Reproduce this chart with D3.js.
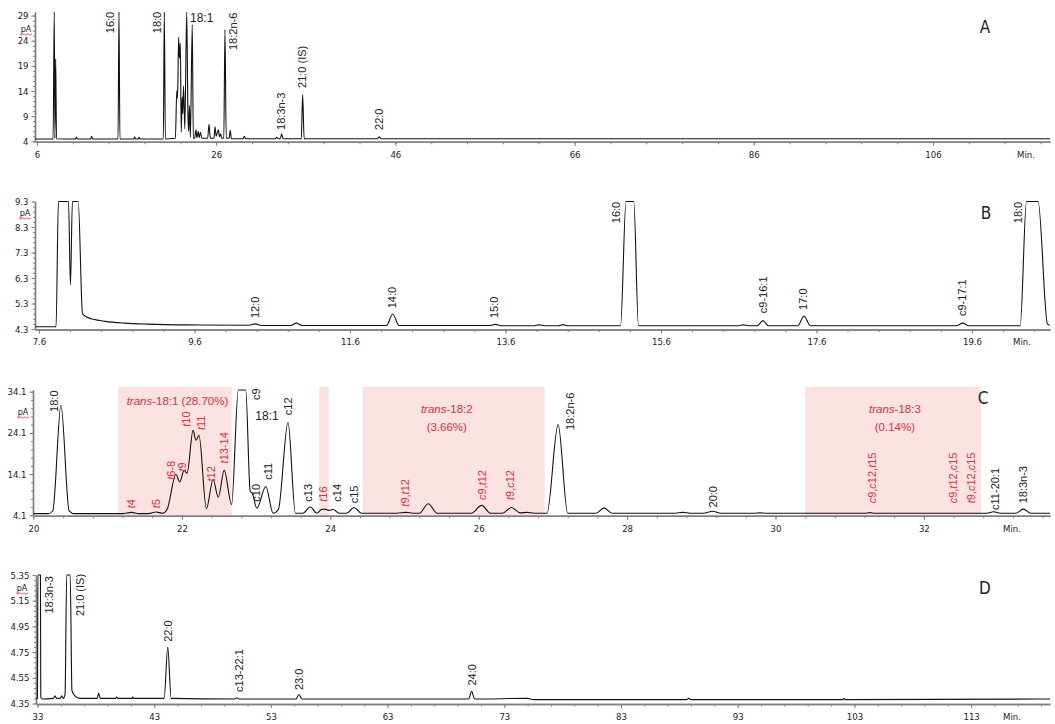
<!DOCTYPE html>
<html>
<head>
<meta charset="utf-8">
<script src="https://cdn.jsdelivr.net/npm/d3@7"></script>
<style>
body { margin: 0; background: #fff; }
svg { display: block; }
.tick text { font-family: "Liberation Sans Narrow", "DejaVu Sans Condensed", sans-serif; font-size: 9.5px; fill: #222; }
.plab { font-family: "Liberation Sans", Arial, sans-serif; font-size: 11px; fill: #222; }
.red { fill: #e0313c; }
</style>
</head>
<body>
<svg id="chart" width="1055" height="724"></svg>
<script>

// ---- panel A : full run (min, pA)
var traceA = [[5.78,4.45],[7.8,4.45],[7.93,45],[8.0,4.6],[8.09,20.4],[8.18,4.5],[10.3,4.45],[10.4,4.8],[10.5,4.45],
    [12.0,4.45],[12.1,5.0],[12.2,4.45],[15.05,4.45],[15.15,45],[15.26,4.45],[16.8,4.45],[16.9,4.9],[17.0,4.45],
    [17.3,4.45],[17.4,4.8],[17.5,4.45],[20.1,4.45],[20.21,45],[20.33,4.45],[21.45,4.6],[21.6,14.0],[21.66,12.5],
    [21.72,15.0],[21.81,24.7],[21.9,20.5],[22.0,23.5],[22.1,5.8],[22.2,12.8],[22.27,9.5],[22.36,15.0],[22.5,6.5],
    [22.71,45],[22.85,9.4],[22.92,6],[23.02,11.1],[23.12,4.8],[23.33,27.2],[23.45,4.6],[23.6,4.6],[23.75,6.3],
    [23.85,4.7],[24.0,6.0],[24.1,4.7],[24.25,5.8],[24.4,4.6],[25.05,4.6],[25.2,7.4],[25.35,4.6],[25.75,4.6],
    [25.87,6.9],[26.0,5.0],[26.24,6.3],[26.36,4.9],[26.5,5.5],[26.62,4.6],[26.85,4.6],[26.98,26.2],[27.12,4.6],
    [27.45,4.6],[27.57,6.2],[27.7,4.5],[29.0,4.5],[29.14,5.0],[29.3,4.5],[32.6,4.5],[32.75,4.8],[32.9,4.5],
    [33.15,4.5],[33.31,5.5],[33.45,4.5],[35.5,4.5],[35.65,13.3],[35.82,4.5],[44.0,4.5],[44.2,4.9],[44.4,4.5],[119.06,4.5]];
var xTicksA = [6, 26, 46, 66, 86, 106];
var yTicksA = [4, 9, 14, 19, 24, 29];
var labelsA = [["16:0",14.15,25.5],["18:0",19.36,25.5],["18:2n-6",27.9,22.15],["18:3n-3",33.23,6.25],
    ["21:0 (IS)",35.65,14.6],["22:0",44.2,6.25]];

// ---- panel B : 7.6 - 20.6 min
var traceB = [[7.55,4.39],[7.82,4.39],[7.85,12],[7.98,12],[8.005,6.03],[8.03,12],[8.105,12],[8.16,4.9],[8.22,4.76],
    [8.3,4.68],[8.45,4.6],[8.7,4.53],[9.0,4.49],[9.5,4.46],[10.3,4.45],[10.38,4.5],[10.46,4.44],[10.84,4.44],
    [10.91,4.53],[10.98,4.44],[12.07,4.44],[12.15,4.89],[12.23,4.44],[13.4,4.44],[13.47,4.48],[13.54,4.43],
    [13.97,4.43],[14.03,4.46],[14.1,4.43],[14.28,4.43],[14.34,4.47],[14.4,4.43],[15.08,4.43],[15.15,12],[15.25,12],
    [15.31,4.43],[16.6,4.43],[16.66,4.46],[16.72,4.43],[16.84,4.43],[16.91,4.63],[16.98,4.43],[17.36,4.43],
    [17.44,4.81],[17.52,4.43],[19.4,4.43],[19.48,4.53],[19.56,4.43],[20.22,4.43],[20.3,12],[20.45,12],[20.57,4.5],[20.6,4.45]];
var xTicksB = [7.6, 9.6, 11.6, 13.6, 15.6, 17.6, 19.6];
var yTicksB = [4.3, 5.3, 6.3, 7.3, 8.3, 9.3];
var labelsB = [["12:0",10.38,4.73],["14:0",12.14,5.11],["15:0",13.46,4.73],["16:0",15.02,8.45],
    ["c9-16:1",16.91,4.92],["17:0",17.43,5.05],["c9-17:1",19.47,4.81],["18:0",20.19,8.45]];

// ---- panel C : 20 - 33.7 min
var traceC = [[20.0,4.5],[20.2,4.5],[20.26,5.2],[20.37,30.8],[20.48,5.2],[20.55,4.5],[21.2,4.5],[21.32,4.8],[21.42,4.5],
    [21.55,4.5],[21.65,4.9],[21.74,4.6],[21.8,5.5],[21.92,14.0],[21.97,12.2],[22.03,15.0],[22.07,14.3],[22.15,24.7],
    [22.19,22.3],[22.23,23.5],[22.33,5.7],[22.42,12.8],[22.49,8.5],[22.57,15.0],[22.67,6.7],[22.76,40],[22.86,40],
    [22.92,10],[22.95,9.4],[23.01,5.8],[23.13,11.1],[23.23,4.6],[23.3,5.5],[23.43,26.7],[23.53,4.6],[23.63,4.6],
    [23.73,6.1],[23.82,4.6],[23.88,5.5],[23.93,5.6],[23.98,5.3],[24.04,5.5],[24.12,4.6],[24.22,4.6],[24.32,6.0],
    [24.42,4.6],[24.9,4.6],[25.02,4.8],[25.12,4.6],[25.2,4.6],[25.32,6.9],[25.44,4.6],[25.9,4.6],[26.04,6.5],
    [26.16,4.6],[26.32,4.6],[26.44,6.0],[26.56,4.7],[26.65,4.8],[26.75,4.6],[26.92,4.6],[27.07,26.1],[27.2,4.6],
    [27.58,4.6],[27.69,5.9],[27.8,4.6],[28.65,4.6],[28.75,4.8],[28.85,4.6],[29.03,4.6],[29.15,5.1],[29.27,4.6],
    [29.7,4.6],[29.79,4.7],[29.88,4.6],[31.2,4.6],[31.27,4.75],[31.34,4.6],[32.85,4.6],[32.94,4.95],[33.03,4.6],
    [33.24,4.6],[33.34,5.6],[33.44,4.6],[33.7,4.6]];
var xTicksC = [20, 22, 24, 26, 28, 30, 32];
var yTicksC = [4.1, 14.1, 24.1, 34.1];
var labelsC = [["18:0",20.28,29.2],["c9",23.0,32.1],["c12",23.43,28.4],["c10",23.0,7.4],["c11",23.16,12.7],
    ["c13",23.7,7.4],["c14",24.09,7.4],["c15",24.32,7.0],["18:2n-6",27.23,24.8],["20:0",29.16,6.0],
    ["c11-20:1",32.96,5.4],["18:3n-3",33.34,7.0]];
var transLabelsC = [["t4",21.32,5.8],["t5",21.65,5.8],["t6-8",21.85,12.7],["t9",22.0,14.7],["t10",22.06,25.6],
    ["t11",22.26,24.8],["t12",22.39,12.3],["t13-14",22.57,16.7],["t16",23.91,7.4],["t9,t12",25.01,6.2],
    ["c9,t12",26.04,7.8],["t9,c12",26.43,7.8],["c9,c12,t15",31.3,7.0],["c9,t12,c15",32.4,7.0],["t9,c12,c15",32.64,7.0]];
var bandsC = [[21.14,22.67],[23.85,23.98],[24.44,26.89],[30.40,32.77]];
var bandTextC = [["trans","-18:1 (28.70%)",21.94,30.9],["trans","-18:2",25.57,28.9],["","(3.66%)",25.57,24.6],
    ["trans","-18:3",31.61,28.9],["","(0.14%)",31.61,24.6]];

// ---- panel D : 33 - 120 min
var traceD = [[32.87,4.385],[33.0,4.39],[33.03,6],[33.25,6],[33.28,4.4],[33.4,4.385],[34.35,4.39],[34.5,4.41],
    [34.62,4.39],[34.95,4.39],[35.07,4.41],[35.2,4.39],[35.36,4.42],[35.5,6],[35.8,6],[35.95,4.45],[36.2,4.41],
    [36.6,4.39],[38.1,4.39],[38.24,4.43],[38.38,4.39],[39.7,4.39],[39.79,4.4],[39.88,4.39],[41.1,4.39],[41.16,4.4],
    [41.22,4.39],[43.85,4.39],[44.16,4.79],[44.45,4.39],[49.9,4.385],[50.07,4.395],[50.25,4.385],[55.15,4.385],
    [55.4,4.42],[55.65,4.385],[69.95,4.385],[70.2,4.445],[70.45,4.385],[75,4.39],[75.5,4.38],[88.6,4.38],[88.8,4.39],
    [89.0,4.38],[102.0,4.38],[102.1,4.39],[102.2,4.38],[119.76,4.385]];
var xTicksD = [33, 43, 53, 63, 73, 83, 93, 103, 113];
var yTicksD = [4.35, 4.55, 4.75, 4.95, 5.15, 5.35];
var labelsD = [["18:3n-3",34.01,5.05],["21:0 (IS)",36.64,5.03],["22:0",44.16,4.83],["c13-22:1",50.29,4.44],
    ["23:0",55.41,4.455],["24:0",70.27,4.49]];

var svg = d3.select("#chart");

function drawPanel(p) {
    var g = svg.append("g");
    var x = d3.scaleLinear().domain(p.xDomain).range([p.left, 1050]);
    var y = d3.scaleLinear().domain(p.yDomain).range([p.bottom, p.top]).clamp(true);
    var yFree = y.copy().clamp(false);

    // shaded areas (panel C only)
    if (p.bands) {
        g.selectAll(".band").data(p.bands).enter().append("rect")
            .attr("x", function(d) { return x(d[0]); })
            .attr("width", function(d) { return x(d[1]) - x(d[0]); })
            .attr("y", yFree(p.bandTop))
            .attr("height", p.bottom - yFree(p.bandTop))
            .style("fill", "#fde2e2");
    }

    // x axis + minor ticks
    var xMinor = [];
    for (var t = p.xTicks[0] - 10 * p.xMinorStep; t <= p.xDomain[1]; t += p.xMinorStep) {
        if (t >= p.xDomain[0]) xMinor.push(t);
    }
    g.append("g").attr("transform", "translate(0," + (p.bottom + 0.5) + ")")
        .call(d3.axisBottom(x).tickValues(xMinor).tickSize(2.5).tickSizeOuter(0).tickFormat(""));
    g.append("g").attr("transform", "translate(0," + (p.bottom + 0.5) + ")")
        .call(d3.axisBottom(x).tickValues(p.xTicks).tickSize(4).tickSizeOuter(0).tickPadding(5)
            .tickFormat(d3.format(p.xFmt)));
    g.append("text").attr("x", p.minX).attr("y", p.bottom + 13)
        .attr("dy", "0.35em").attr("text-anchor", "middle")
        .style("font-family", "'Liberation Sans Narrow', 'DejaVu Sans Condensed', sans-serif")
        .style("font-size", "9.5px").style("fill", "#222").text("Min.");

    // y axis
    var yStep = (p.yTicks[1] - p.yTicks[0]) / 5;
    var yMinor = d3.range(p.yDomain[0], p.yDomain[1] + 1e-9, yStep);
    g.append("g").attr("transform", "translate(" + p.left + ",0)")
        .call(d3.axisLeft(y).tickValues(yMinor).tickSize(2).tickSizeOuter(0).tickFormat(""));
    g.append("g").attr("transform", "translate(" + p.left + ",0)")
        .call(d3.axisLeft(y).tickValues(p.yTicks).tickSize(3.5).tickSizeOuter(0).tickPadding(3)
            .tickFormat(d3.format(p.yFmt)));
    g.selectAll(".domain").style("stroke", "#808080").style("stroke-width", 1.4);
    g.selectAll(".tick line").style("stroke", "#808080");

    // pA unit with its spell-check squiggle
    g.append("text").attr("x", p.pa[0]).attr("y", p.pa[1]).attr("dy", "0.35em")
        .attr("text-anchor", "middle")
        .style("font-family", "'Liberation Sans Narrow', 'DejaVu Sans Condensed', sans-serif")
        .style("font-size", "9px").style("fill", "#222").text("pA");
    var sq = d3.range(0, 7).map(function(i) { return [p.pa[0] - 6 + i * 2, p.pa[1] + 5 + (i % 2 ? 1.2 : -0.2)]; });
    g.append("path").attr("d", d3.line()(sq)).style("fill", "none").style("stroke", "#e0313c").style("stroke-width", 0.8);

    // trace
    var line = d3.line()
        .x(function(d) { return x(d[0]); })
        .y(function(d) { return y(d[1]); })
        .curve(d3.curveMonotoneX);
    g.append("path").datum(p.trace).attr("d", line)
        .style("fill", "none").style("stroke", "#111").style("stroke-width", 1.1);

    // peak labels
    function rotLabels(data, cls) {
        g.selectAll(null).data(data).enter().append("text")
            .attr("class", "plab " + cls)
            .attr("transform", function(d) { return "translate(" + x(d[1]) + "," + yFree(d[2]) + ") rotate(-90)"; })
            .attr("dy", "0.35em")
            .each(function(d) {
                var el = d3.select(this);
                if (cls == "red") {
                    d[0].split(/([ct])/).forEach(function(s) {
                        if (s == "") return;
                        el.append("tspan").style("font-style", (s == "c" || s == "t") ? "italic" : "normal").text(s);
                    });
                } else {
                    el.text(d[0]);
                }
            });
    }
    rotLabels(p.labels, "");
    if (p.redLabels) rotLabels(p.redLabels, "red");

    if (p.bandText) {
        var bt = g.selectAll(null).data(p.bandText).enter().append("text")
            .attr("class", "plab red").style("font-size", "11.5px")
            .attr("x", function(d) { return x(d[2]); })
            .attr("y", function(d) { return yFree(d[3]); })
            .attr("text-anchor", "middle");
        bt.append("tspan").style("font-style", "italic").text(function(d) { return d[0]; });
        bt.append("tspan").text(function(d) { return d[1]; });
    }

    if (p.flat) {
        g.append("text").attr("class", "plab").style("font-size", "12px")
            .attr("x", x(p.flat[1])).attr("y", yFree(p.flat[2])).text(p.flat[0]);
    }

    // panel letter
    g.append("text").attr("x", p.letter[1]).attr("y", p.letter[2]).attr("dy", "0.35em")
        .attr("text-anchor", "middle")
        .style("font-family", "'Liberation Sans Narrow', 'DejaVu Sans Condensed', sans-serif")
        .style("font-size", "17px").style("fill", "#222").text(p.letter[0]);
}

drawPanel({ trace: traceA, xTicks: xTicksA, yTicks: yTicksA, labels: labelsA,
    xDomain: [5.78, 119.06], yDomain: [4, 29.71], left: 35, top: 12, bottom: 141.3,
    xMinorStep: 4, xFmt: "d", yFmt: "d", minX: 1026, pa: [26, 29], letter: ["A", 985, 27],
    flat: ["18:1", 23.08, 27.8] });

drawPanel({ trace: traceB, xTicks: xTicksB, yTicks: yTicksB, labels: labelsB,
    xDomain: [7.549, 20.603], yDomain: [4.3, 9.3], left: 35, top: 201.5, bottom: 329,
    xMinorStep: 0.4, xFmt: ".1f", yFmt: ".1f", minX: 1022, pa: [25, 213], letter: ["B", 986, 213] });

drawPanel({ trace: traceC, xTicks: xTicksC, yTicks: yTicksC, labels: labelsC, redLabels: transLabelsC,
    bands: bandsC, bandTop: 35.24, bandText: bandTextC,
    xDomain: [19.993, 33.70], yDomain: [4.1, 34.51], left: 33, top: 390, bottom: 515.3,
    xMinorStep: 0.4, xFmt: "d", yFmt: ".1f", minX: 1012, pa: [23, 412], letter: ["C", 983, 398],
    flat: ["18:1", 22.99, 27.2] });

drawPanel({ trace: traceD, xTicks: xTicksD, yTicks: yTicksD, labels: labelsD,
    xDomain: [32.87, 119.76], yDomain: [4.35, 5.35], left: 36, top: 575, bottom: 703.5,
    xMinorStep: 2, xFmt: "d", yFmt: ".2f", minX: 1012, pa: [22, 588], letter: ["D", 985, 588] });

console.log("done");
</script>
</body>
</html>
